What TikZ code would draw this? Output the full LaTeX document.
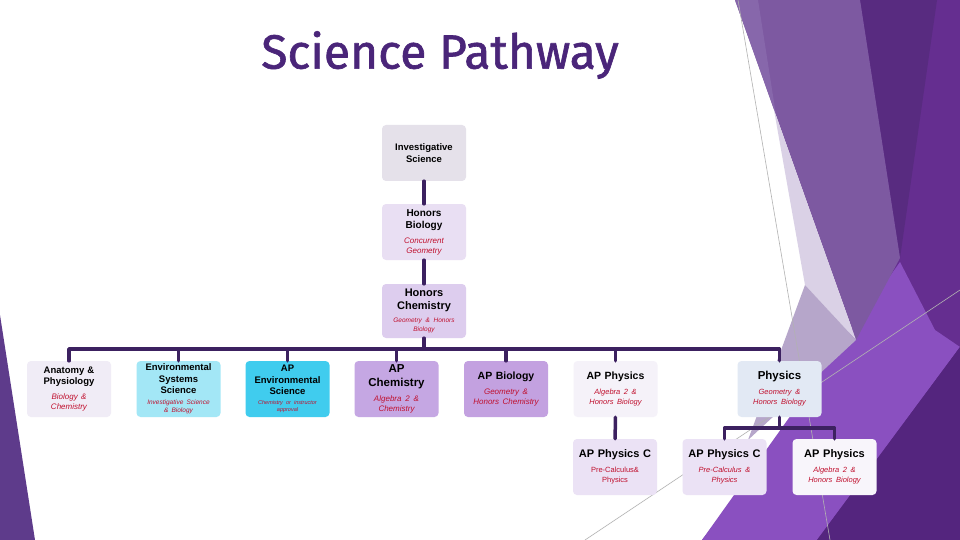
\documentclass[tikz,border=0pt]{standalone}
\usepackage{fontspec}
\setmainfont{Liberation Sans}
\newfontfamily\titlefont{Fira Sans}[FakeBold=1.3]
\definecolor{titlepurple}{HTML}{4A2579}
\definecolor{linkpurple}{HTML}{3C2160}
\definecolor{reqred}{HTML}{C0102E}
\definecolor{facetleft}{HTML}{5E3B8B}
\definecolor{facetbase}{HTML}{652E90}
\definecolor{facetdark}{HTML}{582B80}
\definecolor{facetbright}{HTML}{8A50C0}
\definecolor{facetdeep}{HTML}{54257E}
\definecolor{facetmid}{HTML}{7D59A1}
\definecolor{facetsoft}{HTML}{8767AB}
\definecolor{facetpale}{HTML}{DAD1E6}
\definecolor{facetgrey}{HTML}{B6A6CA}
\definecolor{invfill}{HTML}{E5E1EA}
\definecolor{hbiofill}{HTML}{E9DFF3}
\definecolor{hchemfill}{HTML}{DDCDEE}
\definecolor{anatfill}{HTML}{F0ECF6}
\definecolor{envfill}{HTML}{A3E7F6}
\definecolor{apenvfill}{HTML}{40CCEE}
\definecolor{apchemfill}{HTML}{C5A7E3}
\definecolor{apbiofill}{HTML}{C3A1E0}
\definecolor{apphysfill}{HTML}{F5F2F9}
\definecolor{physfill}{HTML}{E2E9F4}
\definecolor{apcfill}{HTML}{EBE2F5}
\definecolor{lastfill}{HTML}{F8F5FB}
\newcommand\req[4][5pt]{\par\vspace{#1}{\centering\color{reqred}\mdseries\itshape\fontsize{#2}{#3}\selectfont #4\par}}
\begin{document}
\begin{tikzpicture}[x=1pt,y=-1pt,line join=round,line cap=round,
	course/.style={rectangle,rounded corners=4pt,minimum width=84pt,minimum height=56pt,text width=82pt,inner sep=1pt,align=center,font=\bfseries\fontsize{9.5}{11.5}\selectfont},
	link/.style={draw=linkpurple,line width=3.5pt}]
	\useasboundingbox (0,0) rectangle (960,540);
	\fill[white] (0,0) rectangle (960,540);
	% facet background
	\fill[facetleft] (0,315)--(35,540)--(0,540)--cycle;
	\fill[facetbase] (860,0)--(960,0)--(960,540)--(702,540)--(856,340)--cycle;
	\fill[facetdark] (860,0)--(937,0)--(900,258)--cycle;
	\fill[facetbright] (702,540)--(900,262)--(935,330)--(960,347)--(817,540)--cycle;
	\fill[facetdeep] (817,540)--(960,347)--(960,540)--cycle;
	\fill[facetmid] (735,0)--(860,0)--(900,258)--(856,340)--cycle;
	\fill[facetsoft] (735,0)--(758,0)--(776,115)--cycle;
	\fill[facetpale] (774,110)--(856,340)--(805,285)--cycle;
	\fill[facetgrey] (805,285)--(856,340)--(748,440)--cycle;
	\draw[gray!60,line width=.6pt] (738,0)--(830,540);
	\draw[gray!60,line width=.6pt] (585,540)--(960,290);

	\node[font=\titlefont\fontsize{48}{52}\selectfont,text=titlepurple] (title) at (440,55) {Science Pathway};

	\node[course,fill=invfill] (inv) at (424,153) {Investigative\\Science};
	\node[course,fill=hbiofill,font=\bfseries\fontsize{10}{12}\selectfont] (hbio) at (424,232) {Honors\\Biology\req{8}{10}{Concurrent\\Geometry}};
	\node[course,fill=hchemfill,minimum height=54pt,font=\bfseries\fontsize{11}{13}\selectfont] (hchem) at (424,311) {Honors\\Chemistry\req[4pt]{6.5}{9}{Geometry \& Honors\\Biology}};

	\node[course,fill=anatfill] (anat) at (69,389) {Anatomy \&\\Physiology\req{8}{10}{Biology \&\\Chemistry}};
	\node[course,fill=envfill] (env) at (178.5,389) {Environmental\\Systems\\Science\req[3pt]{6.5}{8}{Investigative Science\\\& Biology}};
	\node[course,fill=apenvfill] (apenv) at (287.5,389) {AP\\Environmental\\Science\req[3pt]{5.5}{7}{Chemistry or instructor\\approval}};
	\node[course,fill=apchemfill,font=\bfseries\fontsize{11.5}{13.5}\selectfont] (apchem) at (396.5,389) {AP\\Chemistry\req{8}{10}{Algebra 2 \&\\Chemistry}};
	\node[course,fill=apbiofill,font=\bfseries\fontsize{10.5}{12.5}\selectfont] (apbio) at (506,389) {AP Biology\req{8}{10}{Geometry \&\\Honors Chemistry}};
	\node[course,fill=apphysfill,font=\bfseries\fontsize{10.5}{12.5}\selectfont] (apphys) at (615.5,389) {AP Physics\req{7.5}{10}{Algebra 2 \&\\Honors Biology}};
	\node[course,fill=physfill,font=\bfseries\fontsize{11.5}{13.5}\selectfont] (phys) at (779.5,389) {Physics\req{7.5}{10}{Geometry \&\\Honors Biology}};

	\node[course,fill=apcfill,font=\bfseries\fontsize{11}{13}\selectfont] (apc1) at (615,467) {AP Physics C\req{7.5}{10}{\upshape Pre-Calculus\&\\Physics}};
	\node[course,fill=apcfill,font=\bfseries\fontsize{11}{13}\selectfont] (apc2) at (724.5,467) {AP Physics C\req{7.5}{10}{Pre-Calculus \&\\Physics}};
	\node[course,fill=lastfill,font=\bfseries\fontsize{11}{13}\selectfont] (apphys2) at (834.5,467) {AP Physics\req{7.5}{10}{Algebra 2 \&\\Honors Biology}};

	\coordinate (split) at (424,349);
	\coordinate (physsplit) at (779.5,428);
	\draw[link] (inv) -- (hbio);
	\draw[link] (hbio) -- (hchem);
	\draw[link] (hchem) -- (split);
	\foreach \c in {anat,env,apenv,apchem,apbio,apphys,phys}
		\draw[link] (split) -| (\c);
	\draw[link] (apphys) -- (apc1);
	\draw[link] (phys) -- (physsplit);
	\draw[link] (physsplit) -| (apc2);
	\draw[link] (physsplit) -| (apphys2);
\end{tikzpicture}
\end{document}
